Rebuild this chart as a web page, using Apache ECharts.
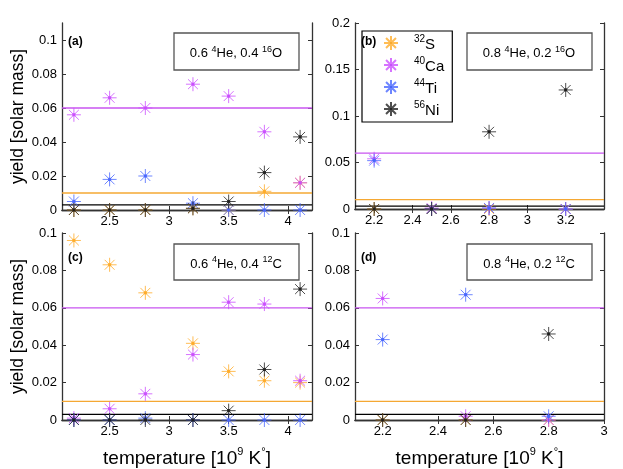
<!DOCTYPE html>
<html lang="en">
<head>
<meta charset="UTF-8">
<title>yield vs temperature</title>
<script src="https://cdn.jsdelivr.net/npm/echarts@6/dist/echarts.min.js"></script>
<style>
    html, body { margin: 0; padding: 0; background: #fff; }
    #chart { width: 623px; height: 469px; }
</style>
</head>
<body>
<div id="chart"></div>
<script>
// temperatures [10^9 K]
var tempA = [2.2, 2.5, 2.8, 3.2, 3.5, 3.8, 4.1];
var tempB = [2.2, 2.5, 2.8, 3.2];
var tempC = [2.2, 2.5, 2.8, 3.2, 3.5, 3.8, 4.1];
var tempD = [2.2, 2.5, 2.8];

// (a) 0.6 4He, 0.4 16O
var s32A  = [0, 0, 0, 0.001, 0, 0.011, 0.016];
var ca40A = [0.056, 0.066, 0.060, 0.074, 0.067, 0.046, 0.016];
var ti44A = [0.005, 0.018, 0.020, 0.004, 0, 0, 0];
var ni56A = [0, 0, 0, 0.001, 0.005, 0.022, 0.043];

// (b) 0.8 4He, 0.2 16O
var s32B  = [0, 0, 0, 0];
var ca40B = [0.054, 0.001, 0.001, 0];
var ti44B = [0.052, 0, 0.001, 0];
var ni56B = [0, 0, 0.083, 0.128];

// (c) 0.6 4He, 0.4 12C
var s32C  = [0.096, 0.083, 0.068, 0.041, 0.026, 0.021, 0.020];
var ca40C = [0.001, 0.006, 0.014, 0.035, 0.063, 0.062, 0.021];
var ti44C = [0, 0, 0.001, 0, 0, 0, 0];
var ni56C = [0, 0, 0, 0, 0.005, 0.027, 0.070];

// (d) 0.8 4He, 0.2 12C
var s32D  = [0, 0, 0];
var ca40D = [0.065, 0.002, 0];
var ti44D = [0.043, 0.067, 0.002];
var ni56D = [0, 0, 0.046];

// horizontal reference levels: 40Ca, 32S, 56Ni
var refLevels = [0.06, 0.01, 0.003];

// tick labels
var xTicksAC = [2.5, 3, 3.5, 4];
var xTicksB = [2.2, 2.4, 2.6, 2.8, 3, 3.2];
var xTicksD = [2.2, 2.4, 2.6, 2.8, 3];
var yTicksA = [0, 0.02, 0.04, 0.06, 0.08, 0.1];
var yTicksB = [0, 0.05, 0.1, 0.15, 0.2];
var yTicksCD = [0, 0.02, 0.04, 0.06, 0.08, 0.1];

var species = ['32S', '40Ca', '44Ti', '56Ni'];
var colors = ['#ffad2a', '#cc50ff', '#4a68ff', '#222222'];
var darks  = ['#d98a00', '#a020d0', '#1030d0', '#000000'];
var refColors = ['#c855f0', '#f5a833', '#000000'];

var panels = [
    {t: tempA, v: [s32A, ca40A, ti44A, ni56A], xmin: 2.1, xmax: 4.2, xt: xTicksAC, ymax: 0.11, yt: yTicksA},
    {t: tempB, v: [s32B, ca40B, ti44B, ni56B], xmin: 2.1, xmax: 3.4, xt: xTicksB, ymax: 0.2, yt: yTicksB},
    {t: tempC, v: [s32C, ca40C, ti44C, ni56C], xmin: 2.1, xmax: 4.2, xt: xTicksAC, ymax: 0.1, yt: yTicksCD},
    {t: tempD, v: [s32D, ca40D, ti44D, ni56D], xmin: 2.1, xmax: 3.0, xt: xTicksD, ymax: 0.1, yt: yTicksCD}
];

var grids = [
    {left: 62, top: 23, width: 250, height: 187},
    {left: 355, top: 23, width: 249, height: 186},
    {left: 62, top: 233, width: 250, height: 188},
    {left: 355, top: 233, width: 249, height: 188}
];

// asterisk with a small dark centre
var star = 'path://M50 0L50 100M0 50L100 50M14.6 14.6L85.4 85.4M14.6 85.4L85.4 14.6M42 42L58 42L58 58L42 58Z';

function fmt(v) { return String(Math.round(v * 1000) / 1000); }

var lineCol = '#333';
var supName = {fontSize: 11, verticalAlign: 'top', lineHeight: 11};
var bigText = {fontSize: 19, verticalAlign: 'bottom', lineHeight: 22};

var xAxis = [], yAxis = [], series = [];
panels.forEach(function (p, i) {
    var bottom = i >= 2;
    xAxis.push({
        type: 'value', gridIndex: i, min: p.xmin, max: p.xmax,
        name: bottom ? '{t|temperature [10}{s|9}{t| K}{s|°}{t|]}' : '',
        nameLocation: 'middle', nameGap: 26,
        nameTextStyle: {color: '#000', fontFamily: 'Liberation Sans', rich: {t: bigText, s: supName}},
        axisLine: {lineStyle: {color: lineCol, width: 1.3}},
        axisTick: {inside: true, length: 4, lineStyle: {color: lineCol}, customValues: p.xt},
        axisLabel: {color: '#000', fontSize: 13, fontFamily: 'Liberation Sans', margin: 5,
                    customValues: p.xt, formatter: fmt},
        splitLine: {show: false}
    });
    yAxis.push({
        type: 'value', gridIndex: i, min: 0, max: p.ymax,
        name: (i % 2 === 0) ? 'yield [solar mass]' : '',
        nameLocation: 'middle', nameGap: 35,
        nameTextStyle: {color: '#000', fontSize: 17.5, fontFamily: 'Liberation Sans'},
        axisLine: {lineStyle: {color: lineCol, width: 1.3}},
        axisTick: {inside: true, length: 4, lineStyle: {color: lineCol}, customValues: p.yt},
        axisLabel: {color: '#000', fontSize: 13, fontFamily: 'Liberation Sans', margin: 5,
                    customValues: p.yt, formatter: fmt},
        splitLine: {show: false}
    });
    // reference levels across the full panel width
    refLevels.forEach(function (lv, m) {
        series.push({
            name: 'ref' + m, type: 'line', xAxisIndex: i, yAxisIndex: i,
            symbol: 'none', silent: true, z: 2,
            lineStyle: {color: refColors[m], width: 1.3},
            data: [[p.xmin, lv], [p.xmax, lv]]
        });
    });
    p.v.forEach(function (vals, k) {
        series.push({
            name: species[k], type: 'scatter', xAxisIndex: i, yAxisIndex: i,
            symbol: star, symbolSize: 14,
            itemStyle: {color: darks[k], borderColor: colors[k], borderWidth: 1, opacity: 0.8},
            data: p.t.map(function (x, j) { return [x, vals[j]]; }),
            z: 3 + k
        });
    });
});

// mirrored axes on top and right (box frame with inner ticks)
panels.forEach(function (p, i) {
    xAxis.push({
        type: 'value', gridIndex: i, position: 'top', min: p.xmin, max: p.xmax,
        axisLine: {lineStyle: {color: lineCol, width: 1.3}},
        axisTick: {inside: true, length: 4, lineStyle: {color: lineCol}, customValues: p.xt},
        axisLabel: {show: false}, splitLine: {show: false}
    });
    yAxis.push({
        type: 'value', gridIndex: i, position: 'right', min: 0, max: p.ymax,
        axisLine: {lineStyle: {color: lineCol, width: 1.3}},
        axisTick: {inside: true, length: 4, lineStyle: {color: lineCol}, customValues: p.yt},
        axisLabel: {show: false}, splitLine: {show: false}
    });
});

var boxLabels = [
    '{n|0.6 }{s|4}{n|He, 0.4 }{s|16}{n|O}',
    '{n|0.8 }{s|4}{n|He, 0.2 }{s|16}{n|O}',
    '{n|0.6 }{s|4}{n|He, 0.4 }{s|12}{n|C}',
    '{n|0.8 }{s|4}{n|He, 0.2 }{s|12}{n|C}'
];
var panelTags = ['(a)', '(b)', '(c)', '(d)'];
var boxPos = [[174, 33, 37], [467, 33, 37], [174, 244, 36], [467, 244, 36]];
var tagPos = [[68, 42], [361, 42], [68, 258], [361, 258]];

var graphic = [];
boxPos.forEach(function (b, i) {
    graphic.push({
        type: 'rect', shape: {x: b[0], y: b[1], width: 125, height: b[2]},
        style: {fill: '#fff', stroke: '#555', lineWidth: 1.3}, z: 10
    });
    graphic.push({
        type: 'text', x: b[0] + 62, y: b[1] + b[2] / 2 + 1, z: 11,
        style: {
            text: boxLabels[i], align: 'center', verticalAlign: 'middle',
            fontFamily: 'Liberation Sans',
            rich: {
                n: {fontSize: 13, verticalAlign: 'bottom', lineHeight: 15, fill: '#000'},
                s: {fontSize: 9, verticalAlign: 'top', lineHeight: 9, fill: '#000'}
            }
        }
    });
    graphic.push({
        type: 'text', x: tagPos[i][0], y: tagPos[i][1], z: 12,
        style: {text: panelTags[i], fontSize: 12, fontWeight: 'bold', fill: '#000',
                fontFamily: 'Liberation Sans', verticalAlign: 'middle'}
    });
});

var chart = echarts.init(document.getElementById('chart'));
chart.setOption({
    animation: false,
    grid: grids,
    xAxis: xAxis,
    yAxis: yAxis,
    legend: {
        data: species, orient: 'vertical', left: 362, top: 31,
        itemWidth: 14, itemHeight: 14, itemGap: 4,
        padding: [3, 8, 4, 21],
        backgroundColor: '#fff', borderColor: '#000', borderWidth: 1.2,
        formatter: function (name) {
            return name.replace(/^(\d+)(.*)$/, '{s|$1}{t|$2}');
        },
        textStyle: {
            fontFamily: 'Liberation Sans', color: '#000',
            rich: {
                s: {fontSize: 10, verticalAlign: 'top', lineHeight: 10, padding: [0, 0, 0, 11]},
                t: {fontSize: 15, verticalAlign: 'bottom', lineHeight: 18}
            }
        },
        z: 9
    },
    graphic: graphic,
    series: series
});
</script>
</body>
</html>
